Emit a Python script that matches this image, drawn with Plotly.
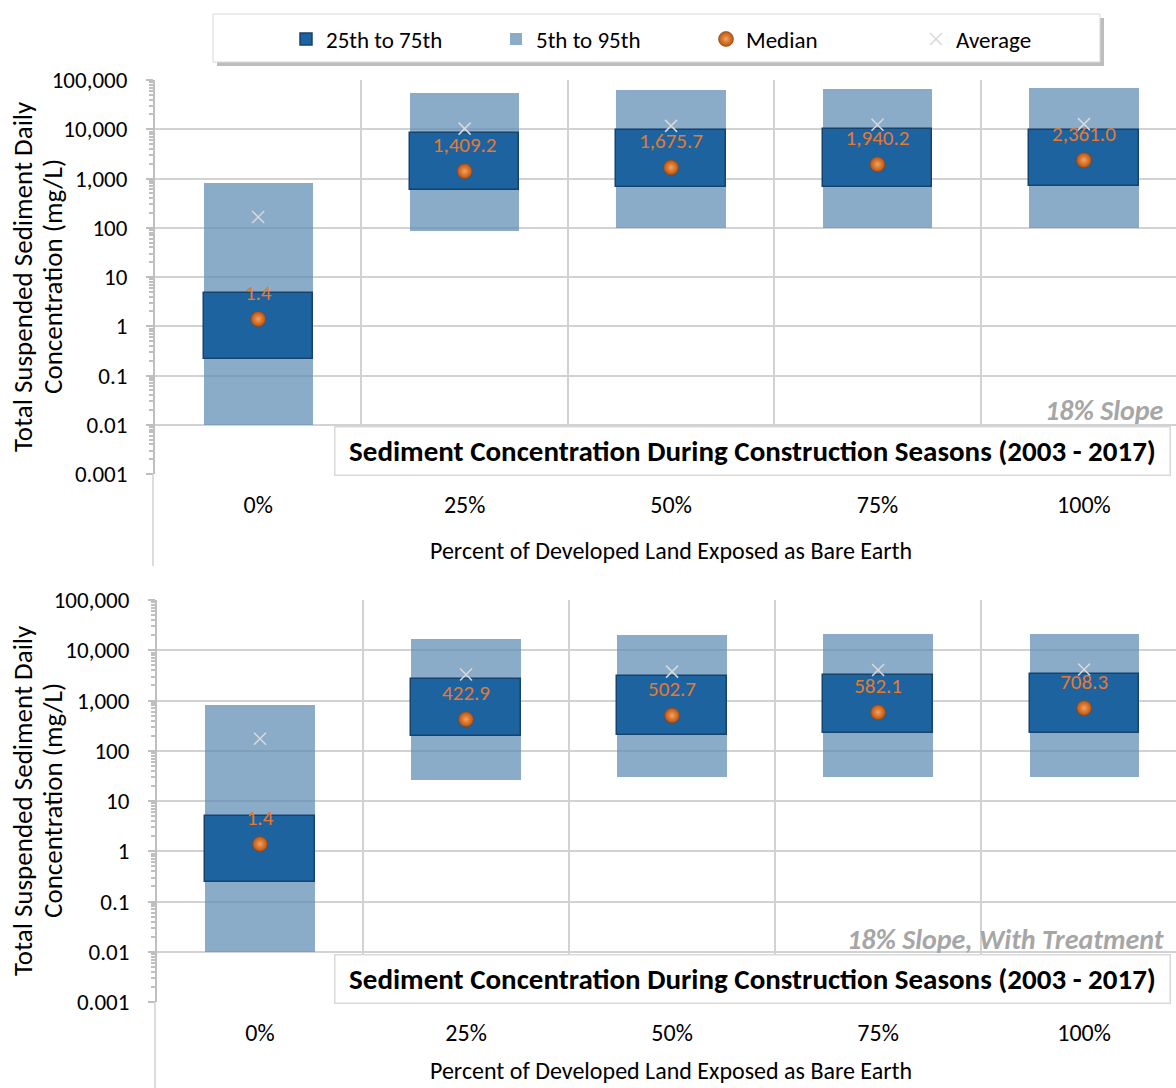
import plotly.graph_objects as go

# ---------------- data ----------------
categories = ["0%", "25%", "50%", "75%", "100%"]

# Top panel: 18% Slope
top_p5 = [0.01, 84, 100, 100, 100]
top_p95 = [800, 55000, 62000, 65000, 68000]
top_p25 = [0.22, 590, 660, 680, 690]
top_p75 = [4.7, 8500, 9600, 10000, 9800]
top_median = [1.4, 1409.2, 1675.7, 1940.2, 2361.0]
top_average = [165, 10300, 11700, 12300, 12700]

# Bottom panel: 18% Slope, With Treatment
bot_p5 = [0.01, 26, 30, 30, 30]
bot_p95 = [830, 17000, 20000, 21000, 21400]
bot_p25 = [0.24, 195, 210, 230, 230]
bot_p75 = [5.0, 2700, 3080, 3250, 3300]
bot_median = [1.4, 422.9, 502.7, 582.1, 708.3]
bot_average = [174, 3300, 3750, 4050, 4150]

y_tick_values = [0.001, 0.01, 0.1, 1, 10, 100, 1000, 10000, 100000]
y_tick_labels = ["0.001", "0.01", "0.1", "1", "10", "100", "1,000", "10,000", "100,000"]

chart_title = "Sediment Concentration During Construction Seasons (2003 - 2017)"
panel_labels = ["18% Slope", "18% Slope, With Treatment"]
x_title = "Percent of Developed Land Exposed as Bare Earth"
y_title_lines = ["Total Suspended Sediment Daily", "Concentration (mg/L)"]

# ---------------- style ----------------
FONT = "Carlito, Calibri, Lato, 'Open Sans', sans-serif"
W, H = 1176, 1088
LIGHT = "rgba(95,141,179,0.73)"
DARK = "#1C63A0"
DARK_EDGE = "#16426E"
ORANGE = "#E57A30"
GRID = "#D2D2D2"
AXIS = "#BFBFBF"
BAR_W = 0.53

fig = go.Figure()

panels = [
    dict(p5=top_p5, p95=top_p95, p25=top_p25, p75=top_p75, med=top_median, avg=top_average,
         xa="x", ya="y", legend=True),
    dict(p5=bot_p5, p95=bot_p95, p25=bot_p25, p75=bot_p75, med=bot_median, avg=bot_average,
         xa="x2", ya="y2", legend=False),
]

for p in panels:
    fig.add_trace(go.Bar(
        x=categories, base=p["p5"], y=[hi - lo for lo, hi in zip(p["p5"], p["p95"])],
        width=BAR_W, marker=dict(color=LIGHT, line=dict(width=0)),
        name="5th to 95th", legendrank=2, showlegend=p["legend"],
        xaxis=p["xa"], yaxis=p["ya"], hoverinfo="skip"))
    fig.add_trace(go.Bar(
        x=categories, base=p["p25"], y=[hi - lo for lo, hi in zip(p["p25"], p["p75"])],
        width=BAR_W, marker=dict(color=DARK, line=dict(color=DARK_EDGE, width=1.5)),
        name="25th to 75th", legendrank=1, showlegend=p["legend"],
        xaxis=p["xa"], yaxis=p["ya"], hoverinfo="skip"))
    fig.add_trace(go.Scatter(
        x=categories, y=p["avg"], mode="markers",
        marker=dict(symbol="x-thin", size=12, line=dict(color="#D9D9D9", width=1.5)),
        name="Average", legendrank=4, showlegend=p["legend"],
        xaxis=p["xa"], yaxis=p["ya"], hoverinfo="skip"))
    fig.add_trace(go.Scatter(
        x=categories, y=p["med"], mode="markers",
        marker=dict(symbol="circle", size=15, color="#B9520F",
                    gradient=dict(type="radial", color="#F7A25C"),
                    line=dict(color="#8E420E", width=0.6)),
        name="Median", legendrank=3, showlegend=p["legend"],
        xaxis=p["xa"], yaxis=p["ya"], hoverinfo="skip"))
    fig.add_trace(go.Scatter(
        x=categories, y=p["med"], mode="markers+text",
        text=[f"{v:,.1f}" for v in p["med"]], textposition="top center",
        textfont=dict(family=FONT, size=21, color=ORANGE),
        marker=dict(size=21, opacity=0),
        showlegend=False, xaxis=p["xa"], yaxis=p["ya"], hoverinfo="skip"))

# axes
plot_px = [(80, 474), (600, 1002)]
left_px = [155, 157]
xtitle_offset = [76, 68]
axis_common_y = dict(
    type="log", range=[-3, 5], tickmode="array", tickvals=y_tick_values, ticktext=y_tick_labels,
    showgrid=True, gridcolor=GRID, gridwidth=2, zeroline=False, automargin=False,
    showline=True, linecolor=AXIS, linewidth=2,
    ticks="outside", ticklen=7, tickcolor=AXIS, tickwidth=2,
    minor=dict(ticks="outside", ticklen=4, tickcolor=AXIS, dtick="D1", showgrid=False),
    tickfont=dict(family=FONT, size=23, color="#000000"), ticklabelstandoff=14,
)
axis_common_x = dict(
    type="category", range=[-0.5, 4.446], tickson="boundaries", automargin=False,
    showgrid=True, gridcolor=GRID, gridwidth=2, zeroline=False, showline=False,
    ticks="", tickfont=dict(family=FONT, size=24, color="#000000"), ticklabelstandoff=14,
)
for i, (top, bot) in enumerate(plot_px):
    sfx = "" if i == 0 else str(i + 1)
    fig.layout["yaxis" + sfx] = dict(axis_common_y, domain=[1 - bot / H, 1 - top / H],
                                     anchor="x" + sfx)
    fig.layout["xaxis" + sfx] = dict(axis_common_x, domain=[left_px[i] / W, 1],
                                     anchor="y" + sfx)

annotations = []
shapes = []
for i, (top, bot) in enumerate(plot_px):
    sfx = "" if i == 0 else str(i + 1)
    # y title (two lines)
    for j, line in enumerate(y_title_lines):
        annotations.append(dict(text=line, xref="paper", x=(22 + 30 * j) / W,
                                yref="y" + sfx + " domain", y=0.5,
                                textangle=-90, showarrow=False, xanchor="center", yanchor="middle",
                                font=dict(family=FONT, size=27, color="#000000")))
    # x title
    annotations.append(dict(text=x_title, xref="paper", x=671 / W,
                            yref="paper", y=1 - (bot + xtitle_offset[i]) / H, showarrow=False,
                            xanchor="center", yanchor="middle",
                            font=dict(family=FONT, size=24, color="#000000")))
    # panel label
    annotations.append(dict(text="<b><i>" + panel_labels[i] + "</i></b>", xref="paper", x=1166 / W,
                            yref="paper", y=1 - (bot - 63) / H, showarrow=False,
                            xanchor="right", yanchor="middle",
                            font=dict(family=FONT, size=28, color="#A6A6A6")))
    # chart title box
    annotations.append(dict(text="<b>" + chart_title + "</b>", xref="paper", x=1171 / W,
                            yref="paper", y=1 - (bot - 23) / H, showarrow=False,
                            xanchor="right", yanchor="middle", width=832, height=45,
                            bgcolor="#FFFFFF", bordercolor="#D9D9D9", borderwidth=1.5,
                            font=dict(family=FONT, size=29, color="#000000")))
    # left frame line continuing below the axis
    shapes.append(dict(type="line", xref="paper", x0=(left_px[i] - 2) / W, x1=(left_px[i] - 2) / W,
                       yref="paper", y0=1 - bot / H, y1=1 - (bot + 92) / H,
                       line=dict(color="#D0D0D0", width=1.5)))

# legend box with shadow
shapes.append(dict(type="rect", xref="paper", yref="paper",
                   x0=217 / W, x1=1104 / W, y0=1 - 66 / H, y1=1 - 18 / H,
                   fillcolor="#BDBDBD", line=dict(width=0), layer="above"))
shapes.append(dict(type="rect", xref="paper", yref="paper",
                   x0=213 / W, x1=1100 / W, y0=1 - 62 / H, y1=1 - 14 / H,
                   fillcolor="#FFFFFF", line=dict(color="#D9D9D9", width=1), layer="above"))

fig.update_layout(
    width=W, height=H, autosize=False,
    margin=dict(l=0, r=0, t=0, b=0, autoexpand=False),
    paper_bgcolor="#FFFFFF", plot_bgcolor="#FFFFFF",
    barmode="overlay", bargap=0,
    font=dict(family=FONT, color="#000000"),
    showlegend=True,
    legend=dict(orientation="h", x=286 / W, xanchor="left", y=1 - 39 / H, yanchor="middle",
                bgcolor="rgba(0,0,0,0)", borderwidth=0, entrywidth=165, entrywidthmode="pixels",
                font=dict(family=FONT, size=23, color="#000000"), itemclick=False),
    annotations=annotations, shapes=shapes,
)

fig.write_html("out.html", config={"displayModeBar": False},
               post_script="document.body.style.margin='0';")
